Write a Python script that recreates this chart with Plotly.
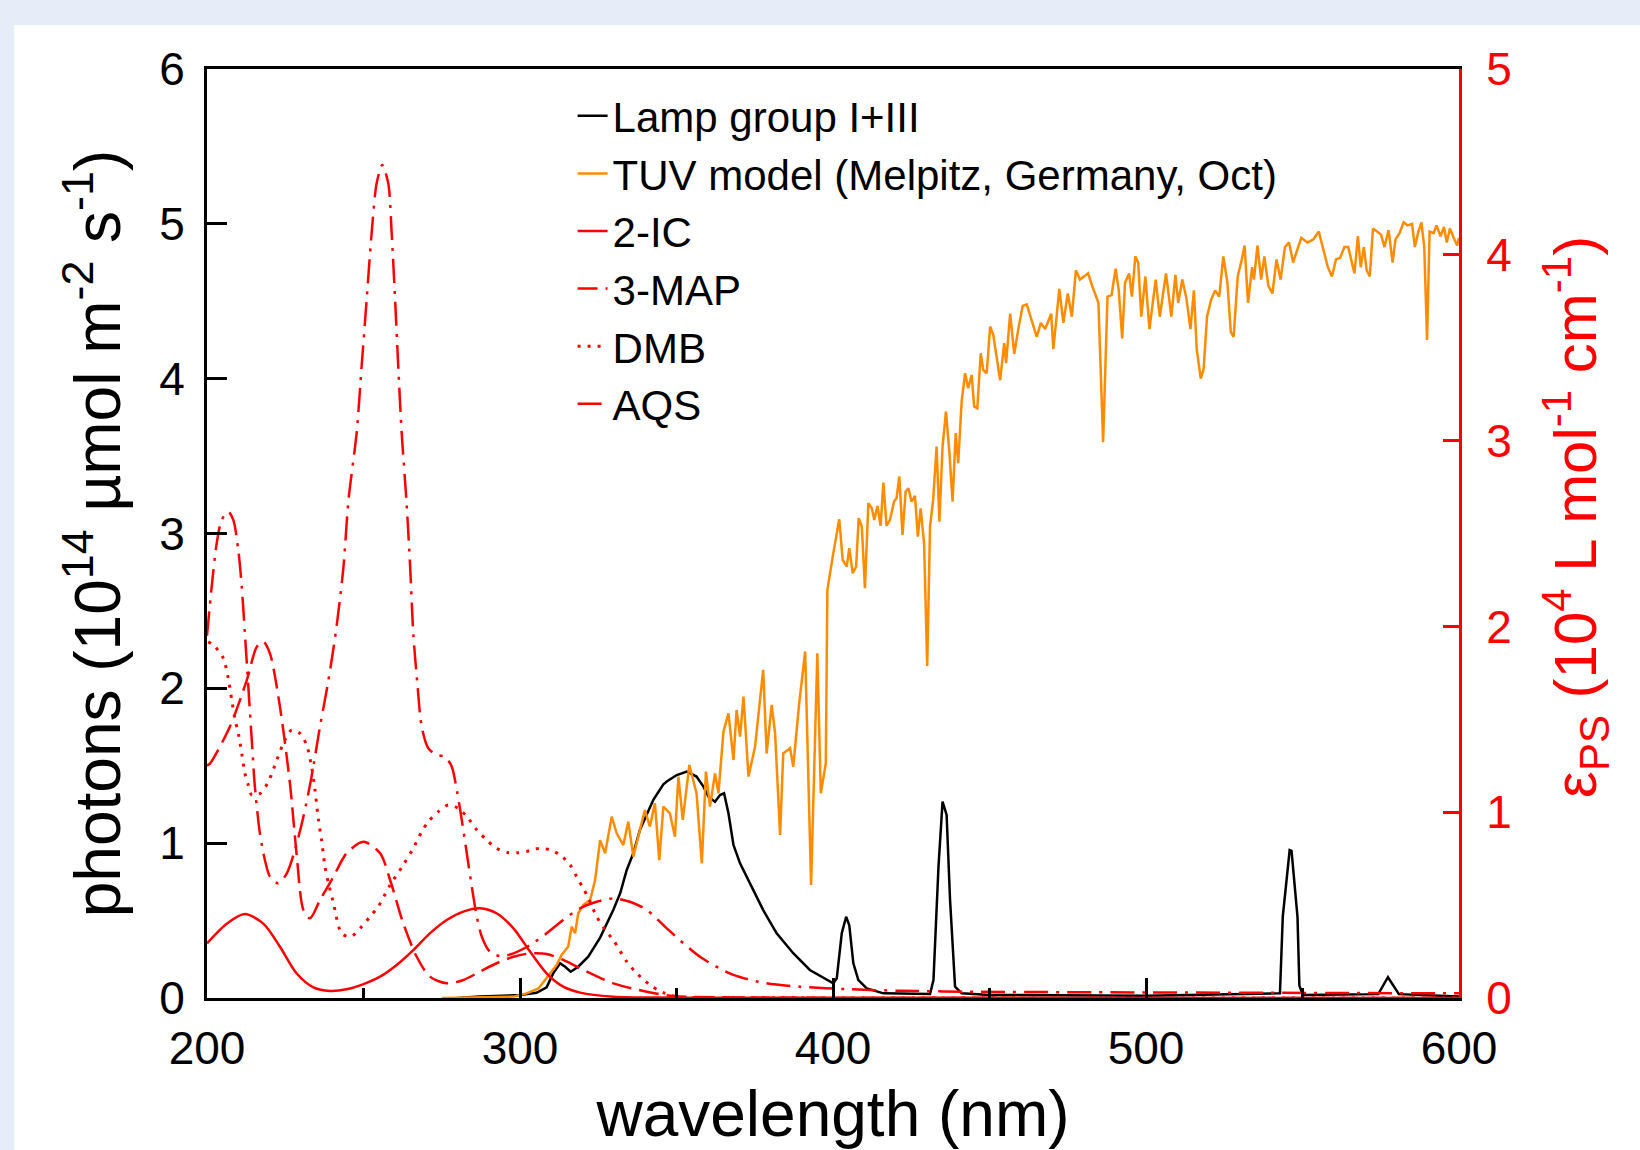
## bibliotecas
import plotly.graph_objects as go

## dados: lampada (fotons, eixo esquerdo)
lamp_wl = [280, 287, 300, 305.3, 308.5, 310.6, 312.8, 314.4, 316.2, 318.6, 321.8, 325.6, 329.8, 332, 334.1,
           336.2, 338.3, 340.5, 342.6, 345.8, 347, 350.1, 353.3, 356.4, 358.6, 360.2, 362.3, 363.9, 365.2,
           366.6, 368.2, 370.3, 373.5, 377.7, 382, 387.3, 392.6, 398, 400.1, 401.2, 402.8, 404.2, 405.2,
           406.5, 408.1, 410.8, 416.1, 431, 432.1, 433.7, 435, 436.3, 437.4, 439, 441.1, 450, 500, 542.8,
           543.7, 545.9, 546.5, 548.4, 549, 550.1, 574.2, 577.3, 580.8, 600]
lamp_ph = [0.0, 0.009, 0.019, 0.034, 0.069, 0.159, 0.224, 0.202, 0.17, 0.202, 0.267, 0.39, 0.568, 0.676, 0.827,
           0.935, 1.085, 1.18, 1.28, 1.38, 1.40, 1.44, 1.462, 1.43, 1.365, 1.30, 1.268, 1.311, 1.322,
           1.193, 0.988, 0.87, 0.741, 0.568, 0.418, 0.289, 0.181, 0.116, 0.095, 0.127, 0.418, 0.525, 0.47,
           0.224, 0.116, 0.062, 0.03, 0.026, 0.116, 0.848, 1.268, 1.182, 0.633, 0.073, 0.03, 0.02, 0.015, 0.03,
           0.525, 0.955, 0.95, 0.525, 0.08, 0.02, 0.025, 0.134, 0.025, 0.01]

## dados: modelo TUV (fotons, eixo esquerdo)
tuv_wl = [275, 290, 297.9, 302.1, 305.9, 308, 309.6, 311.7, 313.3, 315.4, 316.5, 317.6, 318.6, 320.2, 322.4,
          324, 325.6, 327.2, 329.3, 330.9, 333, 334.6, 336.2, 339.9, 341.5, 343.1, 344.5, 345.8, 347.9,
          349.5, 350.6, 352, 354.1, 356.4, 358.1, 359.4, 360.7, 362.3, 363.4, 365, 366.6, 368.2, 369.2,
          370.3, 371.4, 373, 375.1, 377.7, 378.8, 380.4, 381.5, 383.1, 384.1, 386.3, 387.3, 389.2, 391.1,
          393, 395, 396.1, 397.7, 398.2, 400.1, 402, 403.1, 404.4, 405.2, 406.3, 407.4, 408.2, 409.2, 410.2,
          411.3, 412.4, 413.2, 414.2, 415.2, 416.1, 417.1, 418.2, 419.5, 420.3, 421.2, 422.2, 423.2, 424.1,
          425.1, 426.2, 427.1, 428, 429.1, 430.1, 431, 432, 433.1, 434, 435, 436.1, 437.2, 438.2, 439.2,
          440, 441.1, 442.2, 443.2, 444.3, 445.1, 446.1, 447.2, 448, 449.1, 450.2, 451.2, 452.3, 453.4,
          454.7, 455.3, 456.6, 457.9, 459.2, 460.6, 461.9, 463.8, 465.1, 466.4, 467.8, 469.7, 470.4, 472.3,
          473.6, 475, 476.3, 477.6, 478.9, 480.2, 481.5, 482.8, 484.8, 486.3, 487.7, 489, 490.3, 491.3,
          492.4, 493.3, 494.6, 495.5, 496.6, 497.5, 498.5, 499.8, 501.1, 503.1, 504.4, 506.4, 508.1, 509.4,
          510.3, 511.6, 512.9, 514.2, 515.3, 516.2, 517.5, 518.4, 519.5, 520.8, 522.1, 523.4, 524.7, 526,
          527.1, 528, 529.3, 530.6, 531.5, 532.6, 533.9, 534.5, 535.6, 536.8, 537.8, 539.1, 540.4, 541.7,
          543, 544.4, 545.7, 547, 548.3, 549.6, 551.6, 553.5, 555.2, 556.8, 558.1, 559.4, 560.7, 562, 563.4,
          564.6, 565.7, 566.6, 567.7, 568.6, 569.6, 570.5, 571.5, 572.5, 573.8, 575.1, 576.2, 577.5, 578.8,
          579.7, 581, 582.3, 583.6, 585, 585.9, 586.9, 588, 588.9, 589.8, 590.6, 591.9, 592.8, 594.1, 595.2,
          596.1, 597.1, 598.1, 599.4, 600]
tuv_ph = [0.0, 0.003, 0.009, 0.03, 0.062, 0.116, 0.159, 0.213, 0.278, 0.332, 0.461, 0.418, 0.547, 0.60, 0.633,
          0.762, 1.02, 0.935, 1.171, 1.064, 0.988, 1.139, 0.913, 1.214, 1.107, 1.258, 0.891, 1.236, 1.193,
          1.042, 1.43, 1.15, 1.505, 1.322, 0.87, 1.462, 1.236, 1.451, 1.322, 1.72, 1.839, 1.537, 1.86,
          1.688, 1.947, 1.43, 1.624, 2.119, 1.58, 1.893, 1.71, 1.053, 1.58, 1.613, 1.494, 1.903, 2.237,
          0.73, 2.226, 1.322, 1.516, 2.636, 2.873, 3.092, 2.829, 2.786, 2.905, 2.743, 2.786, 3.099, 3.045, 2.646,
          3.196, 3.163, 3.088, 3.178, 3.049, 3.329, 3.049, 3.088, 3.206, 3.228, 3.368, 2.991, 3.271, 3.292,
          3.206, 3.243, 2.98, 3.163, 2.937, 2.145, 3.045, 3.217, 3.562, 3.077, 3.562, 3.788, 3.519, 3.206, 3.648,
          3.454, 3.852, 4.035, 3.938, 4.024, 3.82, 3.809, 4.164, 4.057, 4.035, 4.337, 4.283, 4.143, 3.99,
          4.23, 4.10, 4.42, 4.16, 4.32, 4.47, 4.48, 4.36, 4.27, 4.36, 4.32, 4.42, 4.19, 4.58,
          4.36, 4.55, 4.40, 4.70, 4.64, 4.66, 4.68, 4.60, 4.49, 3.59, 4.53, 4.54, 4.71, 4.57,
          4.26, 4.62, 4.68, 4.53, 4.79, 4.75, 4.40, 4.66, 4.32, 4.64, 4.40, 4.68, 4.40, 4.67,
          4.49, 4.64, 4.52, 4.32, 4.57, 4.19, 4.00, 4.06, 4.40, 4.51, 4.57, 4.53, 4.79, 4.62,
          4.30, 4.27, 4.66, 4.77, 4.86, 4.49, 4.72, 4.64, 4.86, 4.64, 4.79, 4.60, 4.55, 4.77,
          4.64, 4.85, 4.88, 4.75, 4.83, 4.91, 4.88, 4.90, 4.95, 4.83, 4.72, 4.66, 4.77, 4.78, 4.85,
          4.85, 4.75, 4.68, 4.92, 4.72, 4.85, 4.70, 4.66, 4.97, 4.95, 4.93, 4.85, 4.96, 4.75,
          4.90, 4.94, 5.01, 4.99, 5.00, 4.85, 4.94, 5.01, 4.85, 4.25, 4.95, 4.94, 4.99, 4.92, 4.98,
          4.88, 4.97, 4.92, 4.86, 4.91]

## dados: coeficientes de absorcao (eixo direito)
ic_wl = [200, 206.3, 212.1, 218, 223.3, 228.6, 234, 239.3, 244.6, 250, 255.3, 260.6, 265.9, 271.2, 276.6,
         281.9, 287.2, 292.5, 297.9, 303.2, 308.5, 313.8, 319.2, 329.8, 350, 600]
ic_eps = [0.294, 0.40, 0.452, 0.40, 0.276, 0.133, 0.057, 0.038, 0.047, 0.075, 0.115, 0.178, 0.258, 0.348, 0.42,
          0.465, 0.483, 0.456, 0.375, 0.25, 0.133, 0.061, 0.029, 0.007, 0.002, 0.0]

map_wl = [200, 201, 207.3, 212.7, 215.9, 218, 220.1, 223.3, 226.5, 228.6, 230.8, 232.9, 236.1, 240.4, 244.6,
          250, 255.3, 258.5, 262.7, 267, 271.2, 276.6, 281.9, 287.2, 292.5, 297.9, 303.2, 308.5, 313.8,
          319.2, 329.8, 340.5, 349, 370, 600]
map_eps = [1.25, 1.263, 1.46, 1.71, 1.89, 1.918, 1.855, 1.568, 1.155, 0.779, 0.474, 0.429, 0.527, 0.653, 0.779,
           0.841, 0.779, 0.635, 0.402, 0.222, 0.115, 0.079, 0.097, 0.142, 0.187, 0.222, 0.24, 0.237, 0.205,
           0.16, 0.079, 0.034, 0.011, 0.003, 0.0]

dmb_wl = [200.4, 202.6, 205.2, 206.8, 207.9, 209, 210, 211.1, 212.1, 213.2, 214.3, 216.9, 219.6, 222.3, 224.9,
          227, 229.7, 231.8, 233.4, 234.5, 235.6, 236.6, 237.7, 238.8, 240.4, 243, 245.9, 249.4, 252.1,
          254.7, 258.5, 262.7, 265.9, 268.6, 270.7, 273.9, 277.1, 280.3, 283.5, 286.2, 289.4, 292.5, 296.3,
          299.5, 303.2, 306.4, 309.6, 312.8, 316, 318.1, 320.2, 321.9, 324.5, 327.2, 329.8, 334.1, 337.3,
          341.5, 345.8, 350, 370, 600]
dmb_eps = [1.918, 1.89, 1.828, 1.72, 1.604, 1.496, 1.424, 1.317, 1.209, 1.146, 1.093, 1.10, 1.164, 1.281, 1.389,
           1.442, 1.424, 1.362, 1.245, 1.12, 0.958, 0.85, 0.707, 0.617, 0.51, 0.348, 0.33, 0.384, 0.438,
           0.492, 0.608, 0.716, 0.806, 0.895, 0.949, 1.003, 1.039, 1.021, 0.967, 0.904, 0.85, 0.806, 0.782,
           0.782, 0.793, 0.806, 0.797, 0.77, 0.716, 0.653, 0.59, 0.536, 0.438, 0.366, 0.312, 0.196, 0.133,
           0.07, 0.029, 0.007, 0.002, 0.0]

aqs_wl = [200, 201.5, 203.1, 204.7, 206.8, 208.4, 210, 211.1, 212.1, 213.2, 214.3, 215.3, 216.9, 218.5, 220.1,
          222.8, 225.5, 228.1, 230.8, 233.4, 236.1, 238.8, 241.4, 243.6, 245.2, 247.8, 249.4, 251, 252.6,
          254.2, 256, 257.9, 259, 260.1, 261.1, 262.2, 263.7, 264.9, 265.9, 267.2, 268.6, 270.7, 273.4, 276,
          278.2, 279.8, 281.4, 283, 284.6, 286.2, 287.8, 290.4, 293.6, 297.9, 303.2, 308.5, 313.8, 319.2,
          324.5, 329.8, 335.1, 340.5, 346.9, 357.5, 368.2, 378.8, 389.5, 405.4, 421.4, 442.7, 500, 600]
aqs_eps = [1.95, 2.214, 2.447, 2.573, 2.618, 2.573, 2.411, 2.214, 1.963, 1.676, 1.389, 1.137, 0.886, 0.743, 0.653,
           0.617, 0.671, 0.797, 0.976, 1.191, 1.461, 1.711, 1.999, 2.321, 2.68, 3.04, 3.40, 3.757, 4.116,
           4.385, 4.483, 4.385, 4.116, 3.757, 3.40, 3.04, 2.68, 2.321, 1.963, 1.694, 1.46, 1.344, 1.308, 1.299,
           1.245, 1.12, 0.958, 0.779, 0.599, 0.438, 0.33, 0.249, 0.226, 0.24, 0.285, 0.348, 0.42, 0.483,
           0.518, 0.536, 0.518, 0.474, 0.375, 0.222, 0.124, 0.079, 0.061, 0.047, 0.039, 0.034, 0.03, 0.025]

## estilos
fonte = "Arial, 'Liberation Sans', sans-serif"
vermelho = "#FF0000"
laranja = "#FF8C00"

fig = go.Figure()

fig.add_trace(go.Scatter(x=lamp_wl, y=lamp_ph, name="Lamp group I+III", mode="lines",
                         line=dict(color="black", width=2.5)))
fig.add_trace(go.Scatter(x=tuv_wl, y=tuv_ph, name="TUV model (Melpitz, Germany, Oct)", mode="lines",
                         line=dict(color=laranja, width=2.5)))
fig.add_trace(go.Scatter(x=ic_wl, y=ic_eps, name="2-IC", mode="lines", yaxis="y2",
                         line=dict(color=vermelho, width=2.5, shape="spline", smoothing=0.8)))
fig.add_trace(go.Scatter(x=map_wl, y=map_eps, name="3-MAP", mode="lines", yaxis="y2",
                         line=dict(color=vermelho, width=2.5, dash="20px,8px", shape="spline", smoothing=0.8)))
fig.add_trace(go.Scatter(x=dmb_wl, y=dmb_eps, name="DMB", mode="lines", yaxis="y2",
                         line=dict(color=vermelho, width=3, dash="3px,7px", shape="spline", smoothing=0.8)))
fig.add_trace(go.Scatter(x=aqs_wl, y=aqs_eps, name="AQS", mode="lines", yaxis="y2",
                         line=dict(color=vermelho, width=2.5, dash="24px,8px,3px,8px", shape="spline", smoothing=0.8)))

## fundo: faixa azul no topo e a esquerda
fig.add_shape(type="rect", xref="paper", yref="paper", x0=-0.154, x1=1.15, y0=-0.17, y1=1.0474,
              fillcolor="white", line_width=0, layer="below")

fig.update_layout(
    width=1640, height=1150, autosize=False,
    paper_bgcolor="#E6ECF8", plot_bgcolor="white",
    margin=dict(l=207, r=181, t=69, b=152),
    font=dict(family=fonte, color="black", size=46),
    showlegend=True,
    legend=dict(x=0.292, y=0.986, xanchor="left", yanchor="top", bgcolor="rgba(0,0,0,0)",
                font=dict(size=42, color="black"), borderwidth=0),
    xaxis=dict(range=[200, 600], tickvals=[200, 300, 400, 500, 600], ticks="inside", ticklen=20, tickwidth=3,
               tickcolor="black", showline=True, linewidth=3, linecolor="black", mirror=True,
               showgrid=False, zeroline=False, tickfont=dict(size=46), ticklabelstandoff=8, automargin=False,
               minor=dict(dtick=50, ticks="inside", ticklen=10, tickwidth=3, tickcolor="black"),
               title=dict(text="wavelength (nm)", font=dict(size=64), standoff=24)),
    yaxis=dict(range=[0, 6], dtick=1, ticks="inside", ticklen=20, tickwidth=3, tickcolor="black",
               showline=True, linewidth=3, linecolor="black", showgrid=False, zeroline=False,
               tickfont=dict(size=46), ticklabelstandoff=10, automargin=False,
               title=dict(text="photons (10<sup>14</sup> µmol m<sup>-2</sup> s<sup>-1</sup>)",
                          font=dict(size=64), standoff=18)),
    yaxis2=dict(range=[0, 5], dtick=1, overlaying="y", side="right", ticks="inside", ticklen=16, tickwidth=3,
                tickcolor=vermelho, showline=True, linewidth=3, linecolor=vermelho, showgrid=False,
                zeroline=False, tickfont=dict(size=46, color=vermelho), ticklabelstandoff=15, automargin=False,
                title=dict(text="&nbsp;&nbsp;ε<sub>PS</sub> (10<sup>4</sup> L mol<sup>-1</sup> cm<sup>-1</sup>)",
                           font=dict(size=60, color=vermelho), standoff=44)),
)

## sem margem na pagina, sem barra de ferramentas
fig.write_html("out.html", config={"displayModeBar": False},
               post_script="document.body.style.margin='0';")
